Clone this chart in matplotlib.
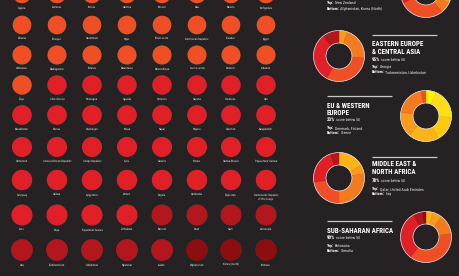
import matplotlib
matplotlib.use('Agg')
import matplotlib.pyplot as plt
from matplotlib.patches import Circle
from matplotlib.textpath import TextPath
from matplotlib.font_manager import FontProperties
from matplotlib import font_manager

plt.rcParams['text.hinting'] = 'no_hinting'
plt.rcParams['text.hinting_factor'] = 1

# pick a narrow/condensed face if one is installed
_ttf = font_manager.fontManager.ttflist
_names = {f.name for f in _ttf}
_cond = {f.name for f in _ttf if str(f.stretch) in ('condensed', 'semi-condensed', 'extra-condensed', '300', '400')}
NARROW, STRETCH = 'Liberation Sans', 'normal'
for cand in ['Liberation Sans Narrow', 'Roboto Condensed', 'Open Sans Condensed', 'Noto Sans Condensed']:
    if cand in _names:
        NARROW = cand
        break
else:
    for cand in ['Noto Sans', 'Open Sans', 'DejaVu Sans', 'Roboto']:
        if cand in _cond:
            NARROW, STRETCH = cand, 'condensed'
            break
plt.rcParams['font.family'] = [NARROW, 'DejaVu Sans']

BG = '#262223'
W, H = 460, 276

# ---------------- data ----------------
countries = [
    ["Algeria", "Armenia", "Bolivia", "Gambia", "Kosovo", "Mali", "Mexico", "Philippines"],
    ["Albania", "Ethiopia", "Guatemala", "Niger", "Timor-Leste", "Dominican Republic", "Ecuador", "Egypt"],
    ["Indonesia", "Madagascar", "Belarus", "Mauritania", "Mozambique", "Sierra Leone", "Vietnam", "Lebanon"],
    ["Togo", "Côte d'Ivoire", "Nicaragua", "Uganda", "Comoros", "Guyana", "Honduras", "Iran"],
    ["Kazakhstan", "Russia", "Azerbaijan", "Kenya", "Nepal", "Nigeria", "Pakistan", "Bangladesh"],
    ["Cameroon", "Central African Republic", "Congo Republic", "Syria", "Ukraine", "Eritrea", "Guinea-Bissau", "Papua New Guinea"],
    ["Paraguay", "Guinea", "Kyrgyzstan", "Yemen", "Angola", "Cambodia", "Tajikistan", "Democratic Republic\nof the Congo"],
    ["Laos", "Libya", "Equatorial Guinea", "Zimbabwe", "Burundi", "Chad", "Haiti", "Venezuela"],
    ["Iraq", "Turkmenistan", "Uzbekistan", "Myanmar", "Sudan", "Afghanistan", "Korea (North)", "Somalia"],
]
scores = [
    [34, 34, 34, 34, 34, 34, 34, 34],
    [33, 33, 33, 33, 33, 32, 32, 32],
    [32, 32, 31, 31, 31, 31, 31, 30],
    [30, 29, 29, 29, 28, 28, 28, 28],
    [28, 28, 27, 27, 27, 27, 27, 26],
    [26, 26, 26, 26, 26, 25, 25, 25],
    [25, 24, 24, 23, 22, 22, 22, 21],
    [21, 21, 20, 20, 19, 19, 19, 19],
    [18, 17, 17, 15, 13, 8, 8, 8],
]

regions = ["ASIA PACIFIC", "EASTERN EUROPE\n& CENTRAL ASIA", "EU & WESTERN\nEUROPE",
           "MIDDLE EAST &\nNORTH AFRICA", "SUB-SAHARAN AFRICA"]
# number of countries per score band: 90s, 80s, ..., 0s
band_counts = [
    [1, 2, 2, 2, 2, 2, 8, 6, 1, 2],
    [0, 0, 0, 0, 1, 4, 6, 6, 2, 0],
    [2, 6, 5, 6, 5, 6, 1, 0, 0, 0],
    [0, 0, 0, 3, 1, 5, 4, 4, 1, 0],
    [0, 0, 0, 2, 3, 6, 18, 15, 3, 1],
]
pct_below = [None, 95, 23, 78, 90]
tops = ["New Zealand", "Georgia", "Denmark, Finland", "Qatar, United Arab Emirates", "Botswana"]
bottoms = ["Afghanistan, Korea (North)", "Turkmenistan, Uzbekistan", "Greece", "Iraq", "Somalia"]

band_colors = ['#FFF200', '#FFDD15', '#FFC70E', '#FDB316', '#F99B1C',
               '#F47A20', '#F04E24', '#E11F26', '#B3161D', '#8C0E10']

# ---------------- layout (pixels from top-left) ----------------
col_x = [22, 57, 92, 127, 162, 197, 231, 266]
row_y = [-6, 25, 55, 85, 115, 147, 180, 215, 250]
row_r = [9.9, 10.0, 10.2, 10.4, 10.5, 10.7, 10.9, 11.2, 11.6]

donut_c = [(426, -8), (339, 56), (426, 116), (339, 178), (426, 237)]
text_x = [327, 372, 327, 372, 327]
line_y = [None, 35, 96, 157, 221]
title_y = [None, (44, 52), (106, 113), (164, 172), (231,)]
pct_y = [None, 60, 120, 181, 238]
top_y = [3, 67, 128, 189, 246]
bot_y = [9, 72, 133, 194, 251]
R_OUT, R_IN = 25.5, 13.0


def Y(y):
    return H - y


fig = plt.figure(figsize=(4.6, 2.76), dpi=100, facecolor=BG)
ax = fig.add_axes([0, 0, 1, 1])
ax.set_facecolor(BG)

# ---------------- circle grid ----------------
for ri, (names_row, sc_row) in enumerate(zip(countries, scores)):
    for ci, (nm, sc) in enumerate(zip(names_row, sc_row)):
        x, y, r = col_x[ci], row_y[ri], row_r[ri]
        col = band_colors[9 - sc // 10]
        ax.add_patch(Circle((x, Y(y)), r, facecolor=col, edgecolor='#0f2a2c', lw=0.9, zorder=2))
        for li, ln in enumerate(nm.split('\n')):
            ax.text(x, Y(y + r + 3.3 + li * 4.0), ln, color='#e6e6e6', fontsize=1.9,
                    fontstretch=STRETCH, ha='center', va='center', zorder=3)


def label_pair(x, y, bold, rest, size_b, size_r, gap=1.3):
    prop = FontProperties(family=[NARROW, 'DejaVu Sans'], weight='bold', stretch=STRETCH, size=size_b)
    ax.text(x, Y(y), bold, color='white', fontproperties=prop, ha='left', va='center')
    ink = TextPath((0, 0), bold, size=size_b, prop=prop).get_extents()
    w_px = ink.x1 * fig.dpi / 72.0
    ax.text(x + w_px + gap, Y(y), rest, color='#e8e8e8', fontsize=size_r,
            fontstretch=STRETCH, ha='left', va='center')


# ---------------- donuts + text ----------------
for k in range(len(regions)):
    cx, cy = donut_c[k]
    counts = band_counts[k]
    vals = [c for c in counts if c > 0]
    cols = [band_colors[i] for i, c in enumerate(counts) if c > 0]
    wedges, _ = ax.pie(vals, colors=cols, startangle=90, counterclock=False,
                       center=(cx, Y(cy)), radius=R_OUT,
                       wedgeprops=dict(width=R_OUT - R_IN, lw=0.3))
    for w, c in zip(wedges, cols):
        w.set_edgecolor(c)
        w.set_zorder(2)
    ax.add_patch(Circle((cx, Y(cy)), R_OUT, fill=False, edgecolor='#cfe6ee', lw=0.5, zorder=3))
    ax.add_patch(Circle((cx, Y(cy)), R_IN, fill=False, edgecolor='#cfe6ee', lw=0.5, zorder=3))

    tx = text_x[k]
    if line_y[k] is not None:
        ax.plot([tx, tx + 65], [Y(line_y[k])] * 2, color='#c8c8c8', lw=0.9, solid_capstyle='butt')
    if title_y[k] is not None:
        for ln, ty in zip(regions[k].split('\n'), title_y[k]):
            ax.text(tx, Y(ty), ln, color='white', fontsize=4.8, fontweight='bold',
                    fontstretch=STRETCH, ha='left', va='center')
    if pct_y[k] is not None:
        label_pair(tx, pct_y[k], f"{pct_below[k]}%", "score below 50", 3.4, 2.8)
    label_pair(tx, top_y[k], "Top:", tops[k], 2.8, 2.8)
    label_pair(tx, bot_y[k], "Bottom:", bottoms[k], 2.8, 2.8)

ax.set_xlim(0, W)
ax.set_ylim(0, H)
ax.set_aspect('auto')
ax.axis('off')
fig.savefig('out.png', dpi=100, facecolor=BG)
